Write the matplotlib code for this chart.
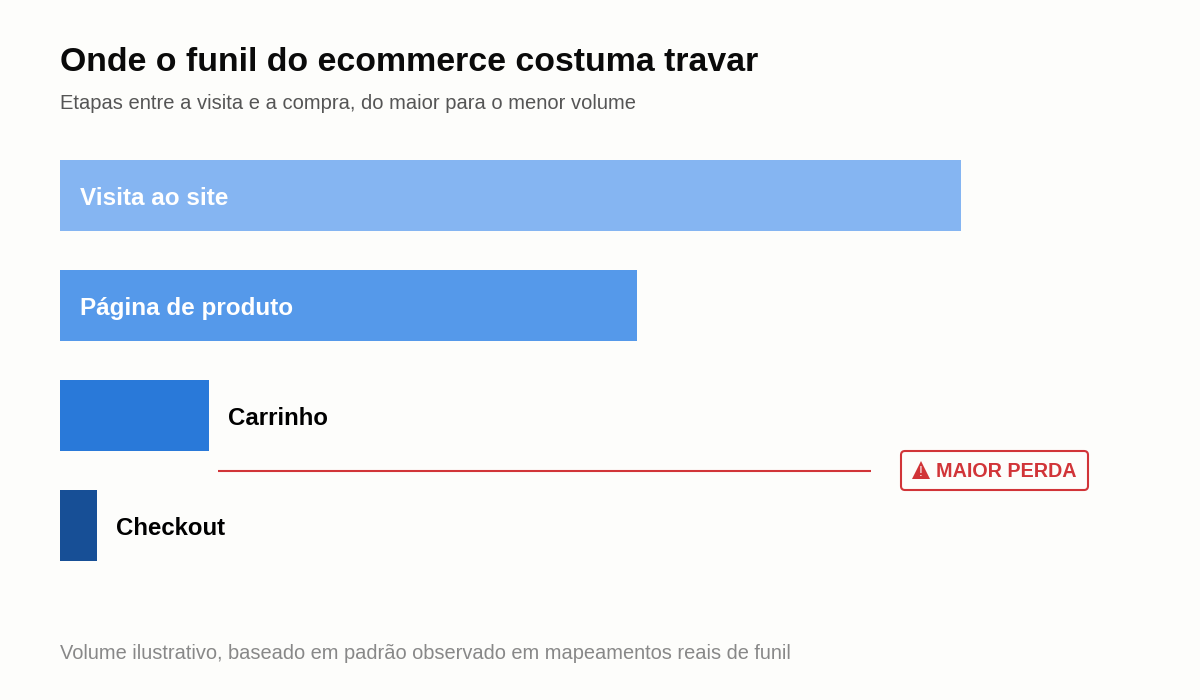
import matplotlib
matplotlib.use("Agg")
import matplotlib.pyplot as plt
from matplotlib.patches import FancyBboxPatch

plt.rcParams['font.family'] = ['Liberation Sans', 'DejaVu Sans']

stages = ["Visita ao site", "Página de produto", "Carrinho", "Checkout"]
volumes = [901, 577, 149, 37]
colors = ["#85B5F2", "#5599EA", "#2979D9", "#174F96"]
label_inside = [True, True, False, False]
title = "Onde o funil do ecommerce costuma travar"
subtitle = "Etapas entre a visita e a compra, do maior para o menor volume"
footer = "Volume ilustrativo, baseado em padrão observado em mapeamentos reais de funil"
callout = "MAIOR PERDA"

BG = "#FDFDFB"
fig = plt.figure(figsize=(12, 7), dpi=100, facecolor=BG)
ax = fig.add_axes([0, 0, 1, 1])
ax.set_xlim(-60, 1140)
ax.set_ylim(700, 0)
ax.axis("off")

y_pos = [195.5, 305.5, 415.5, 525.5]
ax.barh(y_pos, volumes, height=71, color=colors, linewidth=0)

for s, v, y, inside in zip(stages, volumes, y_pos, label_inside):
    x = 20 if inside else v + 19
    c = "white" if inside else "black"
    fs = 17.45 if inside else 17.3
    ax.text(x, y + 9.5, s, color=c, fontsize=fs, fontweight="bold", va="baseline", ha="left")

fig.text(60/1200, 1-70.6/700, title, fontsize=24.37, fontweight="bold", color="#0A0A0A", va="baseline", ha="left")
fig.text(60/1200, 1-109/700, subtitle, fontsize=14.5, color="#555555", va="baseline", ha="left")
fig.text(60/1200, 1-659/700, footer, fontsize=14.36, color="#888888", va="baseline", ha="left")

RED = "#D13438"
ax.plot([158, 811], [470.5, 470.5], color=RED, lw=1.5, solid_capstyle="butt")
ax.add_patch(FancyBboxPatch((841, 451), 187, 39, boxstyle="round,pad=0,rounding_size=4",
                            fc=BG, ec=RED, lw=1.5))
ax.plot([860.5], [469.5], marker="^", ms=13.5, mfc=RED, mec=RED, mew=0, ls="none")
ax.text(860.5, 476.5, "!", color=BG, fontsize=10, ha="center", va="baseline")
ax.text(876, 477, callout, color=RED, fontsize=14.25, fontweight="bold", ha="left", va="baseline")

fig.savefig("out.png", dpi=100, facecolor=BG)
